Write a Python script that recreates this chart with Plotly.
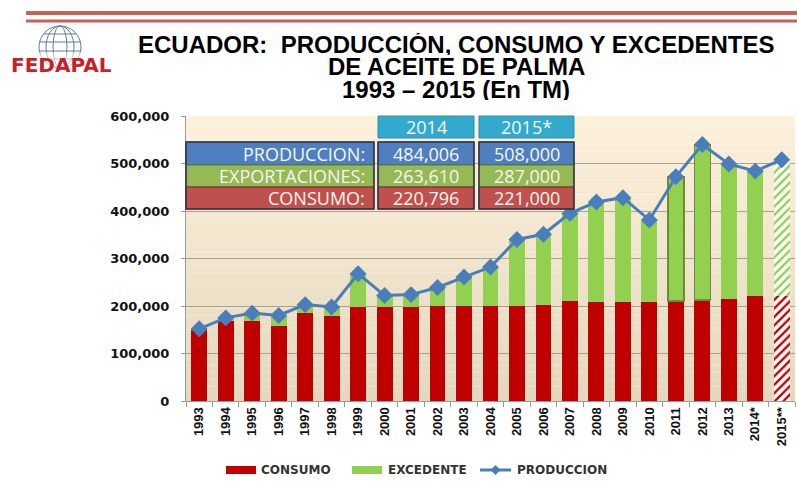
import plotly.graph_objects as go

YEARS = ["1993", "1994", "1995", "1996", "1997", "1998", "1999", "2000", "2001", "2002",
         "2003", "2004", "2005", "2006", "2007", "2008", "2009", "2010", "2011", "2012",
         "2013", "2014*", "2015**"]
CONSUMO = [150000, 168000, 168000, 157000, 185000, 179000, 197000, 197000, 197000, 199000,
           199000, 200000, 200000, 203000, 210000, 208000, 208000, 208000, 211000, 213000,
           215000, 220796, 221000]
EXCEDENTE = [2000, 7000, 17000, 23000, 18000, 19000, 71000, 25000, 27000, 40000,
             62000, 82000, 140000, 148000, 185000, 211000, 220000, 173000, 261000, 327000,
             284000, 263210, 287000]
PRODUCCION = [152000, 175000, 185000, 180000, 203000, 198000, 268000, 222000, 224000, 239000,
              261000, 282000, 340000, 351000, 395000, 419000, 428000, 381000, 472000, 540000,
              499000, 484006, 508000]
Y_TICKS = [0, 100000, 200000, 300000, 400000, 500000, 600000]

TABLE_COLS = ["2014", "2015*"]
TABLE_ROWS = ["PRODUCCION:", "EXPORTACIONES:", "CONSUMO:"]
TABLE_VALUES = [["484,006", "508,000"], ["263,610", "287,000"], ["220,796", "221,000"]]

TITLE_LINES = ["ECUADOR:  PRODUCCIÓN, CONSUMO Y EXCEDENTES", "DE ACEITE DE PALMA", "1993 – 2015 (En TM)"]

RED = "#c00000"
GREEN = "#92d050"
BLUE = "#4a7ebb"

# plot area in pixels
PL, PR, PT, PB = 186, 795, 116, 401


def px(x):
    return (x - PL) / (PR - PL)


def py(y):
    return (PB - y) / (PB - PT)


def mix(c1, c2, t):
    a = [int(c1[i:i + 2], 16) for i in (1, 3, 5)]
    b = [int(c2[i:i + 2], 16) for i in (1, 3, 5)]
    return "#" + "".join(f"{round(a[k] + (b[k] - a[k]) * t):02x}" for k in range(3))


last = len(YEARS) - 1
hatch = ["" if i < last else "/" for i in range(len(YEARS))]
green_edge = [1.5 if y in ("2011", "2012") else 0 for y in YEARS]

fig = go.Figure()
fig.add_trace(go.Bar(
    x=YEARS, y=CONSUMO, name="CONSUMO",
    marker={"color": RED, "line": {"width": 0},
            "pattern": {"shape": hatch, "fgcolor": RED, "bgcolor": "#ffffff", "fgopacity": 1,
                        "fillmode": "replace", "size": 6, "solidity": 0.4}},
    showlegend=False,
))
fig.add_trace(go.Bar(
    x=YEARS, y=EXCEDENTE, name="EXCEDENTE",
    marker={"color": GREEN, "line": {"width": green_edge, "color": "#6f8a3a"},
            "pattern": {"shape": hatch, "fgcolor": GREEN, "bgcolor": "#ffffff", "fgopacity": 1,
                        "fillmode": "replace", "size": 6, "solidity": 0.4}},
    showlegend=False,
))
fig.add_trace(go.Scatter(
    x=YEARS, y=PRODUCCION, name="PRODUCCION", mode="lines+markers",
    line={"color": BLUE, "width": 3},
    marker={"symbol": "diamond", "size": 13, "color": BLUE},
    showlegend=False,
))

shapes = []
# plot background gradient
n = 40
for i in range(n):
    shapes.append(dict(type="rect", xref="x domain", yref="y domain", x0=0, x1=1,
                       y0=i / n, y1=(i + 1) / n, layer="below", line={"width": 0},
                       fillcolor=mix("#e3d7bd", "#fdf1db", (i + 0.5) / n)))

# header rules
shapes.append(dict(type="line", xref="paper", yref="paper", x0=px(26), x1=px(797), y0=py(13), y1=py(13),
                   line={"color": "#c9605a", "width": 4}))
shapes.append(dict(type="line", xref="paper", yref="paper", x0=px(26), x1=px(797), y0=py(21), y1=py(21),
                   line={"color": "#c9605a", "width": 3}))

# logo globe
gx, gy, r = 60, 47, 21
globe = dict(xref="paper", yref="paper", line={"color": "#5f7f9c", "width": 1})
shapes.append(dict(type="circle", x0=px(gx - r), x1=px(gx + r), y0=py(gy + r), y1=py(gy - r), **globe))
for rx in (7, 14):
    shapes.append(dict(type="circle", x0=px(gx - rx), x1=px(gx + rx), y0=py(gy + r), y1=py(gy - r), **globe))
for dy in (-13, -5, 4, 12):
    half = (r * r - dy * dy) ** 0.5
    shapes.append(dict(type="line", x0=px(gx - half), x1=px(gx + half), y0=py(gy + dy), y1=py(gy + dy), **globe))

annotations = []
annotations.append(dict(xref="paper", yref="paper", x=px(61), y=py(65), text="FEDAPAL", showarrow=False,
                        xanchor="center", yanchor="middle",
                        font={"family": "DejaVu Sans", "size": 20, "color": "#c8202a", "weight": "bold"},
                        bgcolor="rgba(255,255,255,0.55)", borderpad=0))

# title
for text, yy in zip(TITLE_LINES, (44, 66, 89)):
    annotations.append(dict(xref="paper", yref="paper", x=px(456), y=py(yy), text=text, showarrow=False,
                            xanchor="center", yanchor="middle", height=22,
                            font={"family": "Liberation Sans, Arial", "size": 24, "color": "#000000",
                                  "weight": "bold"}))

# summary table
row_fill = ["#4f7fbf", "#94b955", "#c0504d"]
row_edge = ["#2e4d7a", "#5f7a33", "#7a2a28"]
row_y = [(142, 165), (165, 187), (187, 209)]
col_x = [(378, 474), (479, 574)]
cell_font = {"family": "Open Sans", "size": 18, "color": "#f6f6f0"}
for (x0, x1), label in zip(col_x, TABLE_COLS):
    shapes.append(dict(type="rect", xref="paper", yref="paper", x0=px(x0), x1=px(x1), y0=py(138), y1=py(116),
                       fillcolor="#33aacd", line={"color": "#2a8fae", "width": 1}))
    annotations.append(dict(xref="paper", yref="paper", x=px((x0 + x1) / 2), y=py(127), text=label,
                            showarrow=False, xanchor="center", yanchor="middle", font=cell_font))
for (y0, y1), fill, edge, label, vals in zip(row_y, row_fill, row_edge, TABLE_ROWS, TABLE_VALUES):
    for (x0, x1) in [(186, 374)] + col_x:
        shapes.append(dict(type="rect", xref="paper", yref="paper", x0=px(x0), x1=px(x1), y0=py(y1), y1=py(y0),
                           fillcolor=fill, line={"color": edge, "width": 1}))
    annotations.append(dict(xref="paper", yref="paper", x=px(367), y=py((y0 + y1) / 2), text=label,
                            showarrow=False, xanchor="right", yanchor="middle", height=22, font=cell_font))
    for (x0, x1), v in zip(col_x, vals):
        annotations.append(dict(xref="paper", yref="paper", x=px((x0 + x1) / 2), y=py((y0 + y1) / 2), text=v,
                                showarrow=False, xanchor="center", yanchor="middle", height=22, font=cell_font))
for (x0, x1) in [(186, 374)] + col_x:
    shapes.append(dict(type="rect", xref="paper", yref="paper", x0=px(x0), x1=px(x1), y0=py(209), y1=py(142),
                       line={"color": "#30354a", "width": 1.5}))

# legend
leg_font = {"family": "DejaVu Sans", "size": 12, "color": "#333333", "weight": "bold"}
ly = 470
shapes.append(dict(type="rect", xref="paper", yref="paper", x0=px(226), x1=px(256), y0=py(ly + 4), y1=py(ly - 4),
                   fillcolor=RED, line={"width": 0}))
shapes.append(dict(type="rect", xref="paper", yref="paper", x0=px(352), x1=px(382), y0=py(ly + 4), y1=py(ly - 4),
                   fillcolor=GREEN, line={"width": 0}))
shapes.append(dict(type="line", xref="paper", yref="paper", x0=px(480), x1=px(511), y0=py(ly), y1=py(ly),
                   line={"color": BLUE, "width": 3}))
shapes.append(dict(type="path", xref="paper", yref="paper",
                   path=f"M {px(495.5)},{py(ly - 5)} L {px(500.5)},{py(ly)} L {px(495.5)},{py(ly + 5)} L {px(490.5)},{py(ly)} Z",
                   fillcolor=BLUE, line={"width": 0}))
for text, xx in zip(["CONSUMO", "EXCEDENTE", "PRODUCCION"], (259, 386, 515)):
    annotations.append(dict(xref="paper", yref="paper", x=px(xx), y=py(ly), text=text, showarrow=False,
                            xanchor="left", yanchor="middle", font=leg_font))

fig.update_layout(
    width=797,
    height=481,
    autosize=False,
    barmode="stack",
    bargap=0.4,
    paper_bgcolor="#ffffff",
    plot_bgcolor="rgba(0,0,0,0)",
    margin={"l": PL, "r": 797 - PR, "t": PT, "b": 481 - PB},
    showlegend=False,
    shapes=shapes,
    annotations=annotations,
    xaxis={
        "type": "category",
        "range": [-0.5, len(YEARS) - 0.5],
        "tickangle": -90,
        "tickfont": {"family": "Liberation Sans, Arial", "size": 13, "color": "#111111", "weight": "bold"},
        "ticks": "outside",
        "tickson": "boundaries",
        "ticklen": 5,
        "tickcolor": "#9a9a9a",
        "showline": True,
        "linecolor": "#9a9a9a",
        "showgrid": False,
    },
    yaxis={
        "range": [0, 600000],
        "tickvals": Y_TICKS,
        "tickformat": ",",
        "tickfont": {"family": "DejaVu Sans", "size": 13, "color": "#111111", "weight": "bold"},
        "ticks": "outside",
        "ticklen": 4,
        "tickcolor": "#9a9a9a",
        "ticklabelstandoff": 9,
        "showline": True,
        "linecolor": "#9a9a9a",
        "gridcolor": "#a9a392",
        "gridwidth": 1,
        "zeroline": False,
    },
)

fig.write_html("out.html", config={"displayModeBar": False},
               post_script="document.body.style.margin='0px';document.body.style.overflow='hidden';")
